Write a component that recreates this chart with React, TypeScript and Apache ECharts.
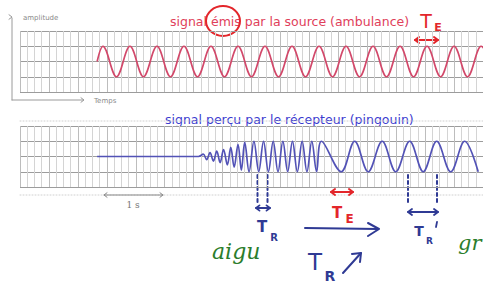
import React, { useEffect, useRef } from "react";
import * as echarts from "echarts";

const emittedTitle = "signal émis par la source (ambulance)";
const receivedTitle = "signal perçu par le récepteur (pingouin)";
const amplitudeLabel = "amplitude";
const timeLabel = "Temps";
const scaleLabel = "1 s";

// emitted signal: [time (s), amplitude] at its start, crests and troughs
const emittedSignal: number[][] = [
  [1.333, 0], [1.433, 1], [1.667, -1], [1.9, 1], [2.133, -1], [2.367, 1], [2.6, -1],
  [2.833, 1], [3.067, -1], [3.3, 1], [3.533, -1], [3.767, 1], [4.0, -1], [4.233, 1],
  [4.467, -1], [4.7, 1], [4.933, -1], [5.167, 1], [5.4, -1], [5.633, 1], [5.867, -1],
  [6.1, 1], [6.333, -1], [6.567, 1], [6.8, -1], [7.033, 1], [7.267, -1], [7.5, 1],
  [7.733, -1], [7.967, 1], [8.2, -1],
];

// received signal: [time (s), amplitude] at its start, crests and troughs
const receivedSignal: number[][] = [
  [1.333, 0], [3.083, 0],
  [3.167, 0.15], [3.225, -0.2], [3.283, 0.25], [3.342, -0.3], [3.4, 0.35], [3.458, -0.4],
  [3.517, 0.45], [3.583, -0.55], [3.642, 0.6], [3.7, -0.7], [3.767, 0.8], [3.825, -0.9],
  [3.883, 0.95], [3.958, -1], [4.042, 1], [4.125, -1], [4.208, 1], [4.292, -1],
  [4.375, 1], [4.458, -1], [4.542, 1], [4.625, -1], [4.708, 1], [4.792, -1], [4.875, 1],
  [4.958, -1], [5.042, 1], [5.125, -1], [5.208, 1], [5.55, -1], [5.783, 1], [6.017, -1],
  [6.258, 1], [6.492, -1], [6.733, 1], [6.967, -1], [7.2, 1], [7.442, -1], [7.683, 1],
  [7.917, -1],
];

const RED = "#e3262b";
const BLUE = "#2f3a94";
const GREEN = "#2b7d2b";
const GRAY = "#9a9a9a";

function ln(x1: number, y1: number, x2: number, y2: number, color: string, width = 1.6, dash?: number[]) {
  return {
    type: "line",
    silent: true,
    shape: { x1, y1, x2, y2 },
    style: { stroke: color, lineWidth: width, lineDash: dash, lineCap: "round" },
  };
}
function poly(points: number[][], color: string, width = 1.6) {
  return {
    type: "polyline",
    silent: true,
    shape: { points },
    style: { stroke: color, lineWidth: width, fill: null, lineCap: "round", lineJoin: "round" },
  };
}
function head(x: number, y: number, dir: number, color: string, size = 4, width = 1.6) {
  return poly([[x - dir * size, y - size * 0.75], [x, y], [x - dir * size, y + size * 0.75]], color, width);
}
function dbl(x1: number, x2: number, y: number, color: string, size = 4, width = 1.8) {
  return [ln(x1, y, x2, y, color, width), head(x1, y, -1, color, size, width), head(x2, y, 1, color, size, width)];
}
function txt(text: string, x: number, y: number, color: string, font: string, align = "left") {
  return {
    type: "text",
    silent: true,
    x,
    y,
    style: { text, fill: color, font, textAlign: align, textVerticalAlign: "middle" },
  };
}

const HAND = '"DejaVu Sans", sans-serif';

export default function App() {
  const ref = useRef<HTMLDivElement>(null);
  useEffect(() => {
    if (!ref.current) return;
    const chart = echarts.init(ref.current, null, { renderer: "svg" });
    const xAxisBase = {
      type: "value",
      min: 0,
      max: 8,
      interval: 0.5,
      axisLine: { show: false },
      axisTick: { show: false },
      axisLabel: { show: false },
      splitLine: { show: true, lineStyle: { color: "#bdbdbd", width: 1 } },
      minorTick: { show: false, splitNumber: 4 },
      minorSplitLine: { show: true, lineStyle: { color: "#d4d4d4", width: 1 } },
    };
    const yAxisBase = {
      type: "value",
      min: -2,
      max: 2,
      interval: 1,
      axisLine: { show: false },
      axisTick: { show: false },
      axisLabel: { show: false },
      splitLine: { show: true, lineStyle: { color: "#9c9c9c", width: 1 } },
    };
    const graphics: any[] = [
      // top axes
      ln(12, 100, 12, 18, GRAY, 1),
      head(12, 17, 1, GRAY, 3, 1),
      ln(12, 100, 83, 100, GRAY, 1),
      head(84, 100, 1, GRAY, 3, 1),
      txt(amplitudeLabel, 23, 18, "#8a8a8a", '7px "DejaVu Sans"'),
      txt(timeLabel, 94, 101, "#8a8a8a", '7px "DejaVu Sans"'),
      // titles
      txt(emittedTitle, 170, 21, "#e0405a", '12.5px "DejaVu Sans"'),
      txt(receivedTitle, 165, 119, "#3c3ccf", '12.5px "DejaVu Sans"'),
      // bottom grid dotted borders
      ln(20, 121, 483, 121, "#d0d0d0", 1, [1, 2]),
      ln(20, 195, 483, 195, "#d0d0d0", 1, [1, 2]),
      // scale bar
      ...dbl(104, 163, 195, "#8a8a8a", 3, 1),
      txt(scaleLabel, 133, 205, "#777", '9px "DejaVu Serif"', "center"),
      // red circle around "émis"
      {
        type: "ellipse",
        silent: true,
        shape: { cx: 223, cy: 21, rx: 17, ry: 15 },
        style: { stroke: RED, lineWidth: 2, fill: null },
      },
      // top T_E
      txt("T", 426, 21, RED, `19px ${HAND}`, "center"),
      txt("E", 438, 27, RED, `bold 11px ${HAND}`, "center"),
      ...dbl(415, 438, 40, RED, 4, 2),
      // T_R near start of fast part
      ln(257.5, 175, 257.5, 203, BLUE, 2, [3, 3]),
      ln(267.5, 175, 267.5, 203, BLUE, 2, [3, 3]),
      ...dbl(256, 270, 208, BLUE, 3.5, 1.8),
      txt("T", 262, 227, BLUE, `bold 15px ${HAND}`, "center"),
      txt("R", 274, 237, BLUE, `bold 10px ${HAND}`, "center"),
      // middle T_E
      ...dbl(331, 353, 192, RED, 4, 2),
      txt("T", 337, 213, RED, `bold 15px ${HAND}`, "center"),
      txt("E", 349.5, 219, RED, `bold 12px ${HAND}`, "center"),
      // arrow T_E -> ... and T_R ↗
      ln(305, 228, 378, 229, BLUE, 2),
      poly([[368, 223], [379, 229], [368, 236]], BLUE, 2),
      txt("T", 315, 262, BLUE, `23px ${HAND}`, "center"),
      txt("R", 330, 276, BLUE, `bold 14px ${HAND}`, "center"),
      ln(343, 273, 361, 253, BLUE, 2),
      poly([[352, 254], [361, 253], [360, 262]], BLUE, 2),
      // T_R' after passing
      ln(408, 175, 408, 205, BLUE, 2, [3, 3]),
      ln(437, 175, 437, 205, BLUE, 2, [3, 3]),
      ...dbl(408, 438, 212, BLUE, 4, 1.8),
      txt("T", 419, 231, BLUE, `bold 14px ${HAND}`, "center"),
      txt("R", 429.5, 241, BLUE, `bold 9px ${HAND}`, "center"),
      ln(437, 222, 436, 227, BLUE, 1.8),
      // green words
      txt("aigu", 212, 251, GREEN, 'italic 22px "DejaVu Serif"'),
      txt("gr", 458, 243, GREEN, 'italic 21px "DejaVu Serif"'),
    ];
    chart.setOption({
      animation: false,
      grid: [
        { left: 20, top: 31, width: 480, height: 61 },
        { left: 20, top: 126, width: 480, height: 61 },
      ],
      xAxis: [
        { ...xAxisBase, gridIndex: 0 },
        { ...xAxisBase, gridIndex: 1 },
      ],
      yAxis: [
        { ...yAxisBase, gridIndex: 0 },
        { ...yAxisBase, gridIndex: 1 },
      ],
      series: [
        {
          type: "line",
          xAxisIndex: 0,
          yAxisIndex: 0,
          data: emittedSignal,
          showSymbol: false,
          smooth: 0.36,
          lineStyle: { color: "#d2486a", width: 1.7 },
          silent: true,
        },
        {
          type: "line",
          xAxisIndex: 1,
          yAxisIndex: 1,
          data: receivedSignal,
          showSymbol: false,
          smooth: 0.36,
          lineStyle: { color: "#5252b6", width: 1.7 },
          silent: true,
        },
      ],
      graphic: graphics,
    });
    return () => chart.dispose();
  }, []);
  return (
    <div
      ref={ref}
      style={{ position: "fixed", left: 0, top: 0, width: 483, height: 286, background: "#fff" }}
    />
  );
}
